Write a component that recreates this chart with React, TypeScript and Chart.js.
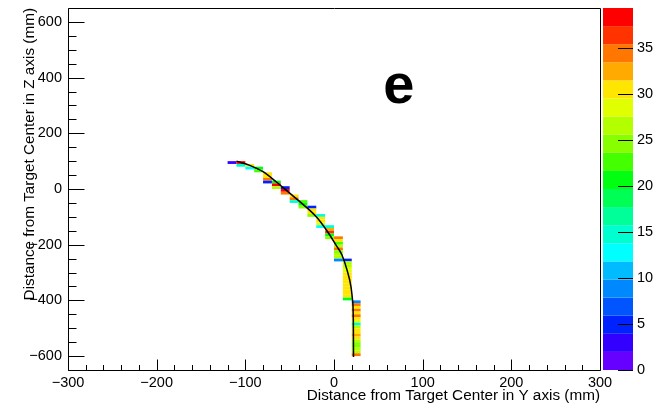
import React, { useEffect, useRef } from "react";
import { Chart, registerables } from "chart.js";

Chart.register(...registerables);

// ---- axis ticks ----
const xTickValues = [-300, -200, -100, 0, 100, 200, 300];
const yTickValues = [-600, -400, -200, 0, 200, 400, 600];
const zTickValues = [0, 5, 10, 15, 20, 25, 30, 35];
const xRange = [-300, 300];
const yRange = [-650, 650];
const zMax = 39.3;

const xTitle = "Distance from Target Center in Y axis (mm)";
const yTitle = "Distance from Target Center in Z axis (mm)";
const panelLabel = "e";

// ---- histogram cells (10 mm x 10 mm bins) ----
// left edge of each column (mm), upper edge of top bin (mm), counts from top to bottom
const binW = 10;
const binH = 10;
const colX = [-120, -110, -100, -90, -80, -70, -60, -50, -40, -30, -20, -10, 0, 10, 20];
const colTop = [100, 100, 90, 80, 60, 30, 10, -20, -40, -60, -90, -130, -170, -250, -400];
const colCounts = [
  [3],
  [38, 14],
  [31, 13],
  [21, 23],
  [31, 30, 35, 5],
  [20, 38, 27],
  [5, 38, 35],
  [30, 35, 14],
  [22, 20, 24],
  [5, 30, 31, 25],
  [14, 30, 31, 28, 13],
  [14, 32, 37, 21, 24],
  [34, 31, 22, 26, 34, 24, 27, 27, 9],
  [5, 27, 26, 28, 29, 30, 31, 30, 31, 30, 31, 30, 31, 30, 20],
  [9, 35, 31, 34, 30, 35, 31, 28, 15, 26, 31, 30, 32, 31, 27, 24, 25, 27, 26, 35],
];

// ---- fitted track ----
const lineX = [-110, -95, -80, -65, -50, -35, -20, -8, 3, 9, 14.7, 19.2, 20.9, 21.8, 22];
const lineY = [100, 85, 62, 25, -15, -55, -100, -150, -205, -237, -291, -352, -399, -470, -603];

// ---- colour palette (bottom to top), 20 levels ----
const palette = [
  "#6600ff", "#3300ff", "#0022ff", "#0055ff", "#0088ff",
  "#00bbff", "#00ffff", "#00ffd0", "#00ff99", "#00ff55",
  "#00ff10", "#44ff00", "#88ff00", "#b3ff00", "#e0ff00",
  "#ffe600", "#ffaa00", "#ff7700", "#ff3300", "#ff0000",
];

const FONT = "'Liberation Sans', Arial, Helvetica, sans-serif";

const fmt = (v: number) => (v < 0 ? "\u2212" + Math.abs(v) : String(v));

const colorFor = (c: number) => {
  const n = palette.length;
  let i = Math.floor((c / zMax) * n);
  if (i < 0) i = 0;
  if (i >= n) i = n - 1;
  return palette[i];
};

const zeroPad = (s: any) => {
  s.paddingTop = 0;
  s.paddingBottom = 0;
  s.paddingLeft = 0;
  s.paddingRight = 0;
};

const rootPlugin = {
  id: "rootStyle",
  beforeDatasetsDraw(chart: any) {
    const { ctx, chartArea } = chart;
    const xs = chart.scales.x;
    const ys = chart.scales.y;
    ctx.save();
    ctx.beginPath();
    ctx.rect(chartArea.left, chartArea.top, chartArea.right - chartArea.left, chartArea.bottom - chartArea.top);
    ctx.clip();
    colX.forEach((x0, ci) => {
      colCounts[ci].forEach((c, ri) => {
        const yTop = colTop[ci] - ri * binH;
        const px0 = xs.getPixelForValue(x0);
        const px1 = xs.getPixelForValue(x0 + binW);
        const py0 = ys.getPixelForValue(yTop);
        const py1 = ys.getPixelForValue(yTop - binH);
        ctx.fillStyle = colorFor(c);
        ctx.fillRect(px0, py0, px1 - px0, py1 - py0);
      });
    });
    ctx.restore();
  },
  afterDraw(chart: any) {
    const { ctx, chartArea } = chart;
    const xs = chart.scales.x;
    const ys = chart.scales.y;
    const zs = chart.scales.z;
    const L = Math.round(chartArea.left) + 0.5;
    const R = Math.round(chartArea.right) + 0.5;
    const T = Math.round(chartArea.top) + 0.5;
    const B = Math.round(chartArea.bottom) + 0.5;
    ctx.save();
    ctx.strokeStyle = "#000";
    ctx.lineWidth = 1;
    ctx.beginPath();
    ctx.rect(L, T, R - L, B - T);
    ctx.stroke();

    // x ticks
    ctx.beginPath();
    for (let v = xRange[0]; v <= xRange[1] + 0.001; v += 20) {
      const px = Math.round(xs.getPixelForValue(v)) + 0.5;
      const major = Math.abs(v % 100) < 0.001;
      ctx.moveTo(px, B);
      ctx.lineTo(px, B - (major ? 11 : 5.5));
    }
    // y ticks
    for (let v = -650; v <= 650.001; v += 50) {
      const py = Math.round(ys.getPixelForValue(v)) + 0.5;
      const major = Math.abs(v % 200) < 0.001;
      ctx.moveTo(L, py);
      ctx.lineTo(L + (major ? 16 : 8), py);
    }
    ctx.stroke();

    // palette
    const pL = chartArea.right + 3;
    const pR = chartArea.right + 33;
    const n = palette.length;
    for (let i = 0; i < n; i++) {
      const y0 = zs.getPixelForValue((i * zMax) / n);
      const y1 = zs.getPixelForValue(((i + 1) * zMax) / n);
      ctx.fillStyle = palette[i];
      ctx.fillRect(pL, y1, pR - pL, y0 - y1);
    }
    ctx.beginPath();
    zTickValues.forEach((v) => {
      const py = Math.round(zs.getPixelForValue(v)) + 0.5;
      ctx.moveTo(pR, py);
      ctx.lineTo(pR - 15, py);
    });
    ctx.stroke();

    // panel label
    ctx.fillStyle = "#000";
    ctx.font = "bold 56px " + FONT;
    ctx.textAlign = "center";
    ctx.textBaseline = "alphabetic";
    ctx.fillText(panelLabel, xs.getPixelForValue(73), ys.getPixelForValue(308));
    ctx.restore();
  },
};

export default function App() {
  const ref = useRef<HTMLCanvasElement | null>(null);
  useEffect(() => {
    if (!ref.current) return;
    const tickFont = { family: FONT, size: 14.5 };
    const titleFont = { family: FONT, size: 15.3 };
    const chart = new Chart(ref.current, {
      type: "scatter",
      data: {
        datasets: [
          {
            type: "line",
            data: lineX.map((x, i) => ({ x, y: lineY[i] })),
            borderColor: "#000",
            borderWidth: 1.5,
            pointRadius: 0,
            cubicInterpolationMode: "monotone",
            fill: false,
          } as any,
        ],
      },
      options: {
        responsive: false,
        animation: false,
        layout: { autoPadding: false, padding: { top: 8, left: 0, right: 0, bottom: 0 } },
        plugins: { legend: { display: false }, tooltip: { enabled: false } },
        scales: {
          x: {
            type: "linear",
            position: "bottom",
            min: xRange[0],
            max: xRange[1],
            grid: { display: false, drawTicks: false },
            border: { display: false },
            afterBuildTicks: (s: any) => {
              s.ticks = xTickValues.map((v) => ({ value: v }));
            },
            afterFit: (s: any) => {
              s.height = 36;
              zeroPad(s);
            },
            ticks: {
              color: "#000",
              font: tickFont,
              padding: 4,
              maxRotation: 0,
              autoSkip: false,
              callback: (v: any) => fmt(Number(v)),
            },
            title: {
              display: true,
              text: xTitle,
              align: "end",
              color: "#000",
              font: titleFont,
              padding: { top: 0, bottom: 1 },
            },
          },
          y: {
            type: "linear",
            position: "left",
            min: yRange[0],
            max: yRange[1],
            grid: { display: false, drawTicks: false },
            border: { display: false },
            afterBuildTicks: (s: any) => {
              s.ticks = yTickValues.map((v) => ({ value: v }));
            },
            afterFit: (s: any) => {
              s.width = 68;
              zeroPad(s);
            },
            ticks: {
              color: "#000",
              font: tickFont,
              padding: 6,
              autoSkip: false,
              callback: (v: any) => fmt(Number(v)),
            },
            title: {
              display: true,
              text: yTitle,
              align: "end",
              color: "#000",
              font: titleFont,
              padding: { top: 21, bottom: 0 },
            },
          },
          z: {
            type: "linear",
            axis: "y",
            position: "right",
            min: 0,
            max: zMax,
            grid: { display: false, drawTicks: false },
            border: { display: false },
            afterBuildTicks: (s: any) => {
              s.ticks = zTickValues.map((v) => ({ value: v }));
            },
            afterFit: (s: any) => {
              s.width = 67;
              zeroPad(s);
            },
            ticks: {
              color: "#000",
              font: tickFont,
              padding: 37,
              autoSkip: false,
            },
          },
        } as any,
      },
      plugins: [rootPlugin],
    });
    return () => chart.destroy();
  }, []);
  return (
    <div style={{ position: "fixed", left: 0, top: 0, width: 667, height: 406, background: "#fff" }}>
      <canvas ref={ref} width={667} height={406} style={{ display: "block" }} />
    </div>
  );
}
